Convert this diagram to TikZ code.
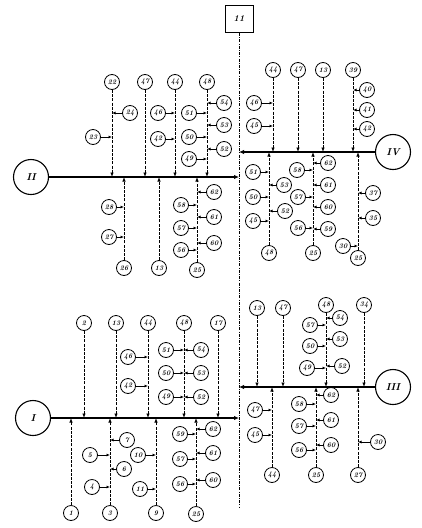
\documentclass[tikz,border=0pt]{standalone}
\usepackage{tikz}
\usetikzlibrary{arrows.meta}

\begin{document}
\begin{tikzpicture}[
    x=1pt, y=-1pt,
    num/.style={circle, draw, line width=0.8pt, minimum size=15pt, inner sep=0pt, font=\scriptsize\bfseries\itshape},
    grp/.style={circle, draw, line width=1.1pt, minimum size=35pt, inner sep=0pt, font=\bfseries\itshape},
    topbox/.style={rectangle, draw, line width=1pt, minimum width=28pt, minimum height=27pt, font=\small\bfseries\itshape},
    mainline/.style={line width=1pt, dash pattern=on 3pt off 1.2pt on 1pt off 1.2pt},
    col/.style={line width=0.8pt, dash pattern=on 3pt off 1.2pt, -{Latex[length=4.5pt,width=3.5pt]}},
    bar/.style={line width=1.5pt, -{Latex[length=5pt,width=4.5pt]}},
    br/.style={line width=0.7pt, -{Latex[length=3.5pt,width=3pt]}}
]
\useasboundingbox (0,0) rectangle (422,528);

% main line
\node[topbox] (top) at (239,19) {11};
\coordinate (end) at (239,507);
\draw[mainline] (top) -- (end);

% group II (upper left)
\node[grp] (g2) at (31,177) {II};
\draw[bar] (g2) -- (g2 -| top);
\node[num] (p22) at (112,82) {22};
\node[num] (p24) at (130,113) {24};
\node[num] (p23) at (93,137) {23};
\node[num] (p47) at (145,82) {47};
\node[num] (p44) at (175,82) {44};
\node[num] (p46) at (158,113) {46};
\node[num] (p42) at (158,139) {42};
\node[num] (p48) at (207,82) {48};
\node[num] (p51) at (189,113) {51};
\node[num] (p50) at (189,137) {50};
\node[num] (p49) at (189,159) {49};
\node[num] (p54) at (224,103) {54};
\node[num] (p53) at (224,125) {53};
\node[num] (p52) at (224,149) {52};
\draw[col] (p22) -- (p22 |- g2);
\draw[col] (p47) -- (p47 |- g2);
\draw[col] (p44) -- (p44 |- g2);
\draw[col] (p48) -- (p48 |- g2);
\draw[br] (p24) -- (p24 -| p22);
\draw[br] (p23) -- (p23 -| p22);
\draw[br] (p46) -- (p46 -| p44);
\draw[br] (p42) -- (p42 -| p44);
\draw[br] (p51) -- (p51 -| p48);
\draw[br] (p50) -- (p50 -| p48);
\draw[br] (p49) -- (p49 -| p48);
\draw[br] (p54) -- (p54 -| p48);
\draw[br] (p53) -- (p53 -| p48);
\draw[br] (p52) -- (p52 -| p48);

\node[num] (q26) at (124,268) {26};
\node[num] (q28) at (109,207) {28};
\node[num] (q27) at (109,237) {27};
\node[num] (q13) at (159,268) {13};
\node[num] (q25) at (197,270) {25};
\node[num] (q58) at (181,205) {58};
\node[num] (q57) at (181,228) {57};
\node[num] (q56) at (181,250) {56};
\node[num] (q62) at (214,192) {62};
\node[num] (q61) at (214,217) {61};
\node[num] (q60) at (214,243) {60};
\draw[col] (q26) -- (q26 |- g2);
\draw[col] (q13) -- (q13 |- g2);
\draw[col] (q25) -- (q25 |- g2);
\draw[br] (q28) -- (q28 -| q26);
\draw[br] (q27) -- (q27 -| q26);
\draw[br] (q58) -- (q58 -| q25);
\draw[br] (q57) -- (q57 -| q25);
\draw[br] (q56) -- (q56 -| q25);
\draw[br] (q62) -- (q62 -| q25);
\draw[br] (q61) -- (q61 -| q25);
\draw[br] (q60) -- (q60 -| q25);

% group IV (upper right)
\node[grp] (g4) at (393,152) {IV};
\draw[bar] (g4) -- (g4 -| top);
\node[num] (r44) at (273,70) {44};
\node[num] (r46) at (254,103) {46};
\node[num] (r45) at (254,126) {45};
\node[num] (r47) at (298,70) {47};
\node[num] (r13) at (323,70) {13};
\node[num] (r39) at (353,70) {39};
\node[num] (r40) at (367,90) {40};
\node[num] (r41) at (367,110) {41};
\node[num] (r42) at (367,129) {42};
\draw[col] (r44) -- (r44 |- g4);
\draw[col] (r47) -- (r47 |- g4);
\draw[col] (r13) -- (r13 |- g4);
\draw[col] (r39) -- (r39 |- g4);
\draw[br] (r46) -- (r46 -| r44);
\draw[br] (r45) -- (r45 -| r44);
\draw[br] (r40) -- (r40 -| r39);
\draw[br] (r41) -- (r41 -| r39);
\draw[br] (r42) -- (r42 -| r39);

\node[num] (s48) at (269,253) {48};
\node[num] (s51) at (253,172) {51};
\node[num] (s50) at (253,197) {50};
\node[num] (s45) at (253,221) {45};
\node[num] (s53) at (284,185) {53};
\node[num] (s52) at (285,211) {52};
\node[num] (s25) at (313,253) {25};
\node[num] (s58) at (297,170) {58};
\node[num] (s57) at (298,197) {57};
\node[num] (s56) at (298,228) {56};
\node[num] (s62) at (328,163) {62};
\node[num] (s61) at (328,185) {61};
\node[num] (s60) at (328,207) {60};
\node[num] (s59) at (328,229) {59};
\node[num] (s25b) at (358,258) {25};
\node[num] (s30) at (343,246) {30};
\node[num] (s37) at (373,193) {37};
\node[num] (s35) at (373,218) {35};
\draw[col] (s48) -- (s48 |- g4);
\draw[col] (s25) -- (s25 |- g4);
\draw[col] (s25b) -- (s25b |- g4);
\draw[br] (s51) -- (s51 -| s48);
\draw[br] (s50) -- (s50 -| s48);
\draw[br] (s45) -- (s45 -| s48);
\draw[br] (s53) -- (s53 -| s48);
\draw[br] (s52) -- (s52 -| s48);
\draw[br] (s58) -- (s58 -| s25);
\draw[br] (s57) -- (s57 -| s25);
\draw[br] (s56) -- (s56 -| s25);
\draw[br] (s62) -- (s62 -| s25);
\draw[br] (s61) -- (s61 -| s25);
\draw[br] (s60) -- (s60 -| s25);
\draw[br] (s59) -- (s59 -| s25);
\draw[br] (s30) -- (s30 -| s25b);
\draw[br] (s37) -- (s37 -| s25b);
\draw[br] (s35) -- (s35 -| s25b);

% group I (lower left)
\node[grp] (g1) at (33,418) {I};
\draw[bar] (g1) -- (g1 -| top);
\node[num] (t2) at (84,323) {2};
\node[num] (t13) at (116,323) {13};
\node[num] (t44) at (148,323) {44};
\node[num] (t46) at (128,357) {46};
\node[num] (t42) at (128,386) {42};
\node[num] (t48) at (184,323) {48};
\node[num] (t51) at (166,350) {51};
\node[num] (t50) at (166,373) {50};
\node[num] (t49) at (166,397) {49};
\node[num] (t54) at (201,350) {54};
\node[num] (t53) at (201,373) {53};
\node[num] (t52) at (201,397) {52};
\node[num] (t17) at (218,323) {17};
\draw[col] (t2) -- (t2 |- g1);
\draw[col] (t13) -- (t13 |- g1);
\draw[col] (t44) -- (t44 |- g1);
\draw[col] (t48) -- (t48 |- g1);
\draw[col] (t17) -- (t17 |- g1);
\draw[br] (t46) -- (t46 -| t44);
\draw[br] (t42) -- (t42 -| t44);
\draw[br] (t51) -- (t51 -| t48);
\draw[br] (t50) -- (t50 -| t48);
\draw[br] (t49) -- (t49 -| t48);
\draw[br] (t54) -- (t54 -| t48);
\draw[br] (t53) -- (t53 -| t48);
\draw[br] (t52) -- (t52 -| t48);

\node[num] (u1) at (71,513) {1};
\node[num] (u3) at (110,513) {3};
\node[num] (u5) at (90,455) {5};
\node[num] (u4) at (92,487) {4};
\node[num] (u7) at (127,440) {7};
\node[num] (u6) at (124,469) {6};
\node[num] (u9) at (156,513) {9};
\node[num] (u10) at (138,455) {10};
\node[num] (u11) at (140,489) {11};
\node[num] (u25) at (196,514) {25};
\node[num] (u59) at (180,434) {59};
\node[num] (u57) at (180,459) {57};
\node[num] (u56) at (180,484) {56};
\node[num] (u62) at (213,429) {62};
\node[num] (u61) at (213,453) {61};
\node[num] (u60) at (213,480) {60};
\draw[col] (u1) -- (u1 |- g1);
\draw[col] (u3) -- (u3 |- g1);
\draw[col] (u9) -- (u9 |- g1);
\draw[col] (u25) -- (u25 |- g1);
\draw[br] (u5) -- (u5 -| u3);
\draw[br] (u4) -- (u4 -| u3);
\draw[br] (u7) -- (u7 -| u3);
\draw[br] (u6) -- (u6 -| u3);
\draw[br] (u10) -- (u10 -| u9);
\draw[br] (u11) -- (u11 -| u9);
\draw[br] (u59) -- (u59 -| u25);
\draw[br] (u57) -- (u57 -| u25);
\draw[br] (u56) -- (u56 -| u25);
\draw[br] (u62) -- (u62 -| u25);
\draw[br] (u61) -- (u61 -| u25);
\draw[br] (u60) -- (u60 -| u25);

% group III (lower right)
\node[grp] (g3) at (393,387) {III};
\draw[bar] (g3) -- (g3 -| top);
\node[num] (v13) at (257,308) {13};
\node[num] (v47) at (283,308) {47};
\node[num] (v48) at (326,305) {48};
\node[num] (v57) at (310,325) {57};
\node[num] (v50) at (310,346) {50};
\node[num] (v49) at (307,368) {49};
\node[num] (v54) at (340,318) {54};
\node[num] (v53) at (340,339) {53};
\node[num] (v52) at (342,366) {52};
\node[num] (v34) at (364,305) {34};
\draw[col] (v13) -- (v13 |- g3);
\draw[col] (v47) -- (v47 |- g3);
\draw[col] (v48) -- (v48 |- g3);
\draw[col] (v34) -- (v34 |- g3);
\draw[br] (v57) -- (v57 -| v48);
\draw[br] (v50) -- (v50 -| v48);
\draw[br] (v49) -- (v49 -| v48);
\draw[br] (v54) -- (v54 -| v48);
\draw[br] (v53) -- (v53 -| v48);
\draw[br] (v52) -- (v52 -| v48);

\node[num] (w44) at (272,475) {44};
\node[num] (w47) at (255,410) {47};
\node[num] (w45) at (255,435) {45};
\node[num] (w25) at (316,475) {25};
\node[num] (w58) at (299,404) {58};
\node[num] (w57) at (299,426) {57};
\node[num] (w56) at (299,450) {56};
\node[num] (w62) at (331,395) {62};
\node[num] (w61) at (331,420) {61};
\node[num] (w60) at (331,445) {60};
\node[num] (w27) at (358,475) {27};
\node[num] (w30) at (378,442) {30};
\draw[col] (w44) -- (w44 |- g3);
\draw[col] (w25) -- (w25 |- g3);
\draw[col] (w27) -- (w27 |- g3);
\draw[br] (w47) -- (w47 -| w44);
\draw[br] (w45) -- (w45 -| w44);
\draw[br] (w58) -- (w58 -| w25);
\draw[br] (w57) -- (w57 -| w25);
\draw[br] (w56) -- (w56 -| w25);
\draw[br] (w62) -- (w62 -| w25);
\draw[br] (w61) -- (w61 -| w25);
\draw[br] (w60) -- (w60 -| w25);
\draw[br] (w30) -- (w30 -| w27);
\end{tikzpicture}
\end{document}
